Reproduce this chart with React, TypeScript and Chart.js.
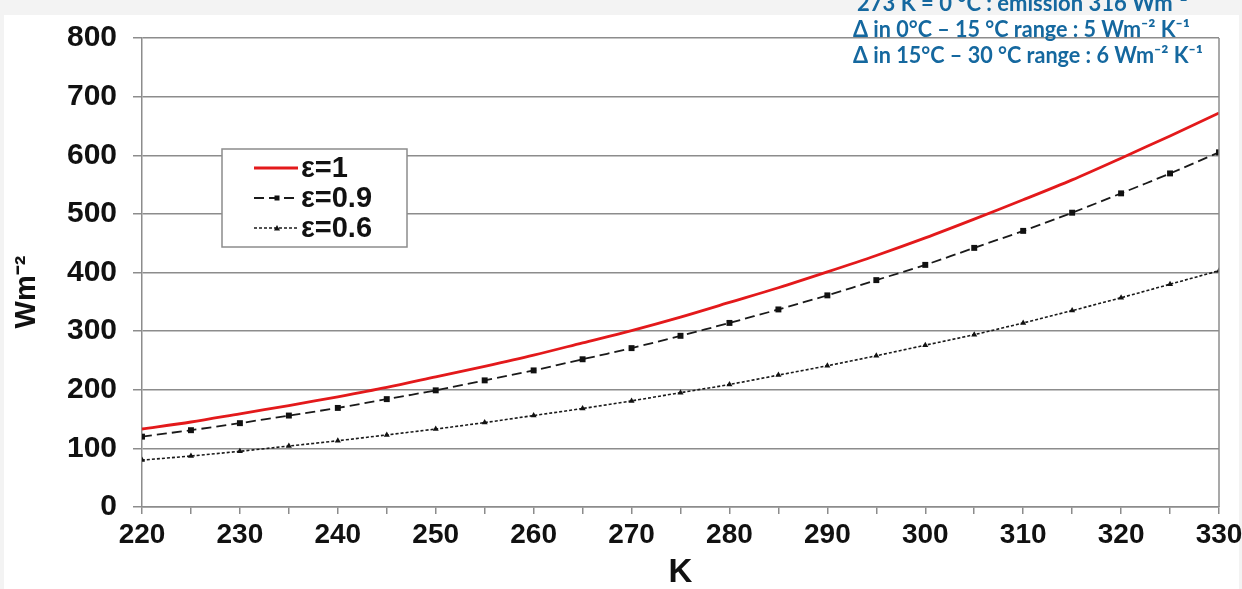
import React, { useEffect, useRef } from 'react';
import { Chart, registerables } from 'chart.js';

Chart.register(...registerables);

// ---- data ----
const temperaturesK = [220, 225, 230, 235, 240, 245, 250, 255, 260, 265, 270, 275, 280, 285, 290, 295, 300, 305, 310, 315, 320, 325, 330];
const emissionEps1 = [133, 145, 159, 173, 188, 204, 222, 240, 259, 280, 301, 324, 349, 374, 401, 429, 459, 491, 524, 558, 595, 633, 672];
const emissionEps09 = [120, 131, 143, 156, 169, 184, 199, 216, 233, 252, 271, 292, 314, 337, 361, 387, 413, 442, 471, 502, 535, 569, 605];
const emissionEps06 = [80, 87, 95, 104, 113, 123, 133, 144, 156, 168, 181, 195, 209, 225, 241, 258, 276, 294, 314, 335, 357, 380, 403];
const seriesLabels = ['ε=1', 'ε=0.9', 'ε=0.6'];
const xAxisTitle = 'K';
const yAxisTitle = 'Wm⁻²';
const noteLines = [
  '273 K = 0 °C : emission 316 Wm⁻²',
  'Δ in 0°C – 15 °C range : 5 Wm⁻² K⁻¹',
  'Δ in 15°C – 30 °C range : 6 Wm⁻² K⁻¹',
];

const FONT = "'Liberation Sans', Arial, Helvetica, sans-serif";
const GRID = '#8c8c8c';
const TEXT = '#111111';
const NOTE = '#15689f';

const toPoints = (ys: number[]) => temperaturesK.map((x, i) => ({ x, y: ys[i] }));

const decorPlugin = {
  id: 'decor',
  beforeDraw(chart: any) {
    const { ctx, width, height } = chart;
    ctx.save();
    ctx.fillStyle = '#f3f3f3';
    ctx.fillRect(0, 0, width, height);
    ctx.fillStyle = '#ffffff';
    ctx.fillRect(4, 15, width - 7, height - 15);
    ctx.restore();
  },
  afterDraw(chart: any) {
    const { ctx, chartArea } = chart;
    ctx.save();
    // right frame of plot
    ctx.strokeStyle = GRID;
    ctx.lineWidth = 1.5;
    ctx.beginPath();
    ctx.moveTo(chartArea.right, chartArea.top);
    ctx.lineTo(chartArea.right, chartArea.bottom);
    ctx.stroke();

    // y axis title
    ctx.save();
    ctx.translate(27, 292);
    ctx.rotate(-Math.PI / 2);
    ctx.fillStyle = TEXT;
    ctx.font = `bold 29px ${FONT}`;
    ctx.textAlign = 'center';
    ctx.textBaseline = 'middle';
    ctx.fillText(yAxisTitle, 0, 0);
    ctx.restore();

    // legend
    const lx = 222, ly = 149, lw = 185, lh = 98;
    ctx.fillStyle = '#ffffff';
    ctx.fillRect(lx, ly, lw, lh);
    ctx.strokeStyle = GRID;
    ctx.lineWidth = 1.5;
    ctx.strokeRect(lx, ly, lw, lh);
    chart.data.datasets.forEach((ds: any, i: number) => {
      const y = 168 + i * 30;
      ctx.save();
      ctx.strokeStyle = ds.borderColor;
      ctx.lineWidth = ds.borderWidth;
      ctx.setLineDash(ds.borderDash || []);
      ctx.beginPath();
      ctx.moveTo(254, y);
      ctx.lineTo(298, y);
      ctx.stroke();
      ctx.setLineDash([]);
      ctx.fillStyle = ds.pointBackgroundColor || ds.borderColor;
      if (ds.pointStyle === 'rect') {
        ctx.fillRect(277 - 2.5, y - 2.5, 5, 5);
      } else if (ds.pointStyle === 'triangle') {
        ctx.beginPath();
        ctx.moveTo(277, y - 3);
        ctx.lineTo(280, y + 2.5);
        ctx.lineTo(274, y + 2.5);
        ctx.closePath();
        ctx.fill();
      }
      ctx.restore();
      ctx.fillStyle = TEXT;
      ctx.font = `bold 29px ${FONT}`;
      ctx.textAlign = 'left';
      ctx.textBaseline = 'middle';
      ctx.fillText(ds.label, 301, y + 1);
    });

    // notes top-right
    ctx.fillStyle = NOTE;
    ctx.font = `bold 22px Lato, 'Open Sans', sans-serif`;
    ctx.textAlign = 'left';
    ctx.textBaseline = 'alphabetic';
    const xs = [857, 853, 853];
    const ys = [11, 37, 63];
    const ws = [335, 337, 350];
    noteLines.forEach((t, i) => ctx.fillText(t, xs[i], ys[i], ws[i]));
    ctx.restore();
  },
};

export default function App() {
  const ref = useRef<HTMLCanvasElement | null>(null);

  useEffect(() => {
    if (!ref.current) return;
    const chart = new Chart(ref.current, {
      type: 'line',
      data: {
        datasets: [
          {
            label: seriesLabels[0],
            data: toPoints(emissionEps1),
            borderColor: '#e3191b',
            backgroundColor: '#e3191b',
            borderWidth: 2.8,
            pointRadius: 0,
            tension: 0.3,
          },
          {
            label: seriesLabels[1],
            data: toPoints(emissionEps09),
            borderColor: '#1a1a1a',
            backgroundColor: '#1a1a1a',
            pointBackgroundColor: '#111111',
            pointBorderColor: '#111111',
            borderWidth: 1.8,
            borderDash: [10, 5],
            pointStyle: 'rect',
            pointRadius: 4.2,
            pointBorderWidth: 0,
            tension: 0.3,
          },
          {
            label: seriesLabels[2],
            data: toPoints(emissionEps06),
            borderColor: '#1a1a1a',
            backgroundColor: '#1a1a1a',
            pointBackgroundColor: '#111111',
            pointBorderColor: '#111111',
            borderWidth: 1.6,
            borderDash: [3, 2],
            pointStyle: 'triangle',
            pointRadius: 3.5,
            pointBorderWidth: 0,
            tension: 0.3,
          },
        ],
      },
      options: {
        responsive: false,
        animation: false,
        devicePixelRatio: 1,
        layout: { padding: { left: 0, right: 23, top: 38, bottom: 0 } },
        plugins: { legend: { display: false }, tooltip: { enabled: false } },
        scales: {
          x: {
            type: 'linear',
            min: 220,
            max: 330,
            afterFit: (s: any) => { s.height = 82; s.paddingLeft = 0; s.paddingRight = 0; },
            ticks: {
              stepSize: 5,
              autoSkip: false,
              maxRotation: 0,
              padding: 4,
              color: TEXT,
              font: { family: FONT, size: 28, weight: 'bold' },
              callback: (v: any) => (Number(v) % 10 === 0 ? String(v) : ''),
            },
            grid: { drawOnChartArea: false, color: GRID, lineWidth: 1.5, tickLength: 7 },
            border: { display: true, color: GRID, width: 1.5 },
            title: {
              display: true,
              text: xAxisTitle,
              color: TEXT,
              font: { family: FONT, size: 33, weight: 'bold', lineHeight: 1 },
              padding: { top: 0, bottom: 0 },
            },
          },
          y: {
            min: 0,
            max: 800,
            afterFit: (s: any) => { s.width = 142; s.paddingTop = 0; s.paddingBottom = 0; },
            ticks: {
              stepSize: 100,
              padding: 16,
              color: TEXT,
              font: { family: FONT, size: 30, weight: 'bold' },
            },
            grid: { color: GRID, lineWidth: 1.5, tickLength: 9 },
            border: { display: true, color: GRID, width: 1.5 },
          },
        },
      },
      plugins: [decorPlugin],
    });
    return () => chart.destroy();
  }, []);

  return (
    <div style={{ position: 'absolute', left: 0, top: 0, width: 1242, height: 589 }}>
      <canvas ref={ref} width={1242} height={589} style={{ display: 'block' }} />
    </div>
  );
}
